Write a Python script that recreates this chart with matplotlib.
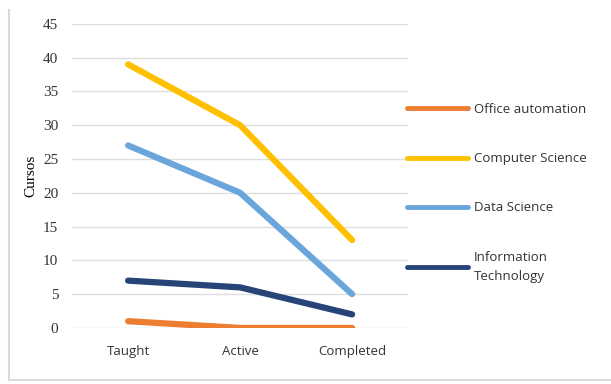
import matplotlib.pyplot as plt
from matplotlib.lines import Line2D

# Data
stages = ['Taught', 'Active', 'Completed']
series_names = ['Office automation', 'Computer Science', 'Data Science',
                'Information\nTechnology']
office_automation = [1, 0, 0]
computer_science = [39, 30, 13]
data_science = [27, 20, 5]
information_technology = [7, 6, 2]
y_ticks = [0, 5, 10, 15, 20, 25, 30, 35, 40, 45]

colors = ['#ED7D31', '#FFC000', '#6AA6DC', '#264478']

# serif is the default (y axis), category labels and legend use a sans face
plt.rcParams['font.family'] = ['Liberation Serif']


def main():
    fig = plt.figure(figsize=(6.11, 3.84), dpi=100)
    ax = fig.add_axes([0.118, 0.146, 0.55, 0.792])

    values = [office_automation, computer_science, data_science, information_technology]
    x = list(range(len(stages)))
    for vals, name, col in zip(values, series_names, colors):
        ax.plot(x, vals, color=col, linewidth=4.5, solid_capstyle='round',
                solid_joinstyle='round', label=name)

    ax.set_xlim(-0.5, 2.5)
    ax.set_ylim(0, 45)
    ax.set_yticks(y_ticks, labels=[str(v) for v in y_ticks])
    ax.set_xticks(x, labels=stages)
    ax.tick_params(length=0, pad=10, labelcolor='#333333')
    ax.tick_params(axis='y', labelsize=11)
    ax.tick_params(axis='x', pad=12, labelfontfamily='Open Sans', labelsize=9.5)
    ax.yaxis.grid(True, color='#dedede', linewidth=1)
    ax.set_axisbelow(True)
    for s in ax.spines.values():
        s.set_visible(False)
    ax.set_ylabel('Cursos', fontsize=11, labelpad=4)

    leg = fig.legend(loc='upper left', bbox_to_anchor=(0.647, 0.763),
                     frameon=False, prop={'family': 'Open Sans', 'size': 9.5},
                     handlelength=4.6, handletextpad=0.45, labelspacing=2.75)
    for t in leg.get_texts():
        t.set_color('#333333')
        t.set_linespacing(1.6)
    for h in leg.get_lines():
        h.set_linewidth(3.5)

    # chart frame (left and bottom edges)
    fig.add_artist(Line2D([9 / 611, 9 / 611], [1 - 380 / 384, 1 - 10 / 384],
                          color='#d9d9d9', linewidth=1.5))
    fig.add_artist(Line2D([9 / 611, 1], [1 - 380 / 384, 1 - 380 / 384],
                          color='#d9d9d9', linewidth=1.5))

    fig.savefig('out.png', dpi=100)


if __name__ == "__main__":
    main()
